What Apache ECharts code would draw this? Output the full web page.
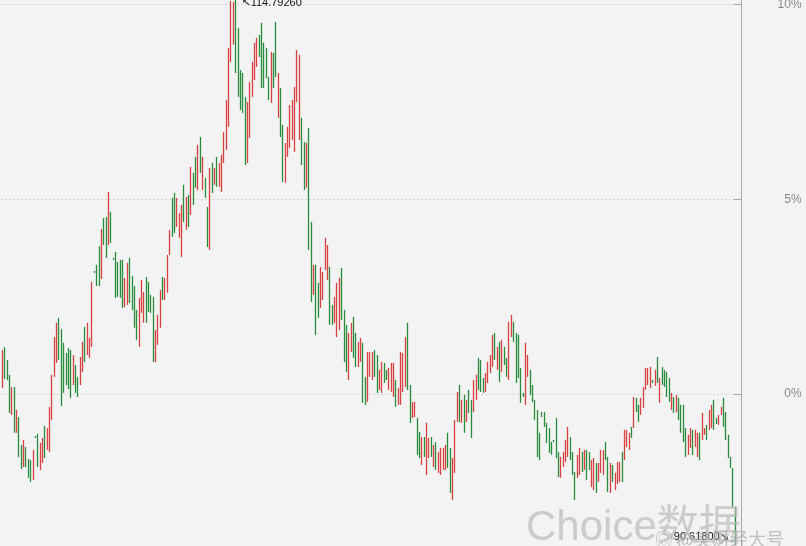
<!DOCTYPE html>
<html>
<head>
<meta charset="utf-8">
<script src="https://cdn.jsdelivr.net/npm/echarts@6/dist/echarts.min.js"></script>
<style>
html,body{margin:0;padding:0;background:#f3f3f3;}
#c{width:806px;height:546px;}
</style>
</head>
<body>
<div id="c"></div>
<script>
// ---- data (price units) ----
const highs = [
99.26,99.39,98.82,98.16,97.62,97.62,96.60,96.29,95.05,95.27,
94.96,94.43,94.38,94.83,95.45,95.54,95.14,95.36,95.89,95.80,
96.74,98.16,99.84,100.47,100.69,100.20,99.58,99.13,99.35,99.26,
99.04,98.60,98.07,98.95,99.62,100.29,100.47,99.80,102.28,102.77,
103.04,103.87,104.63,105.12,105.16,106.27,105.38,103.35,103.61,103.17,
103.26,103.26,102.46,103.13,103.35,102.54,102.10,101.04,101.57,102.37,
101.84,102.50,
102.28,101.71,101.62,100.15,100.82,101.93,102.50,102.46,103.48,104.59,
106.01,106.23,106.01,105.34,105.70,106.59,106.05,106.14,107.38,107.12,
107.83,108.36,108.71,107.83,106.90,105.61,107.34,107.56,107.34,107.83,
107.56,107.92,108.93,110.35,112.66,114.75,114.70,114.7926,113.55,111.68,
111.55,110.49,110.26,111.15,112.04,112.89,113.11,113.24,113.77,112.89,
112.66,111.37,112.48,112.44,113.81,111.55,110.89,109.25,108.45,109.16,
110.13,110.35,110.93,
112.57,112.35,109.56,108.49,108.45,109.11,104.94,103.04,103.04,102.24,
102.95,102.72,104.24,103.92,102.95,101.26,101.62,102.24,102.46,102.90,
101.04,100.38,100.02,100.47,100.73,100.02,99.62,99.80,99.58,98.07,
99.17,99.17,99.17,99.26,99.04,98.38,98.73,98.69,98.38,98.47,
98.69,98.69,97.93,97.58,99.17,99.13,99.84,100.47,97.71,96.96,
96.96,96.25,95.63,95.40,95.40,96.03,95.36,95.40,95.05,95.18,
94.74,94.92,
94.92,95.05,95.59,94.92,94.47,96.16,97.40,97.71,97.05,97.27,
97.05,97.49,97.05,97.93,98.16,98.91,98.82,98.02,98.24,98.73,
99.04,99.93,100.02,99.40,99.62,99.71,99.40,98.91,100.51,100.82,
100.51,100.02,99.93,98.47,97.36,99.58,99.04,98.38,97.71,97.05,
96.60,95.59,96.51,96.51,96.03,95.80,95.18,95.27,96.25,94.74,
94.52,94.74,95.27,95.85,95.40,94.74,93.85,94.61,94.92,94.74,
94.83,94.83,
94.74,94.38,94.47,94.25,94.25,94.83,94.83,95.18,94.52,94.25,
94.16,93.81,94.29,94.29,94.74,95.72,95.72,95.59,95.85,97.18,
97.14,96.83,97.14,97.62,98.47,98.47,98.51,97.93,98.38,98.95,
98.02,98.51,98.38,98.29,98.02,97.36,97.18,97.27,97.14,96.83,
96.83,95.80,95.50,95.80,95.72,95.72,95.59,95.59,96.47,95.80,
95.94,96.60,96.83,97.05,96.25,96.38,96.74,97.14,96.51,95.50,
94.52,94.03,92.30
];
const lows = [
97.58,97.97,97.93,96.47,96.38,95.59,95.59,94.52,93.98,94.07,
94.07,93.59,93.41,93.50,95.36,94.07,93.94,94.25,94.47,94.83,
94.74,96.16,98.07,98.69,98.82,96.78,97.36,97.71,97.53,97.14,
97.71,97.36,97.18,97.71,98.29,98.73,99.04,98.91,99.40,102.68,
102.10,102.10,102.41,103.92,103.35,103.92,104.01,103.26,101.57,101.62,
101.57,101.13,101.17,101.26,101.35,101.04,100.25,99.71,99.40,100.91,
100.47,100.47,
100.95,100.91,98.73,98.73,99.49,100.25,101.48,101.48,101.80,103.48,
104.28,104.46,104.72,104.24,103.39,104.94,104.59,104.72,105.25,105.70,
106.46,106.36,107.12,106.36,106.01,103.83,103.70,106.23,106.59,106.50,
106.50,106.27,107.56,108.14,109.16,112.04,112.80,111.55,110.49,109.91,
109.78,107.47,107.56,108.67,110.49,111.24,111.82,112.26,110.89,110.89,
111.33,110.35,110.22,110.89,111.37,109.56,108.71,106.72,106.68,107.83,
108.23,108.58,108.05,
110.26,108.58,107.47,106.36,106.46,103.70,101.39,101.71,99.93,100.69,
101.13,101.48,102.81,102.37,100.38,100.38,100.47,99.84,100.15,100.60,
98.73,98.29,97.93,99.17,98.91,98.51,98.51,98.73,96.92,96.83,
96.96,98.07,97.93,98.07,97.36,97.49,97.36,97.80,97.93,97.49,
97.40,97.18,96.74,96.83,96.83,97.40,97.62,97.49,96.03,96.25,
96.29,94.61,94.47,94.16,94.52,93.72,94.47,94.52,94.07,93.94,
93.81,93.72,
93.94,93.94,94.03,92.92,92.61,93.81,96.07,96.07,96.03,95.59,
96.07,96.47,95.36,96.51,97.05,97.49,97.40,97.36,97.40,97.80,
98.24,98.51,98.82,98.38,97.84,98.29,98.60,98.07,97.93,99.84,
99.62,97.80,98.02,96.92,97.18,96.83,98.07,97.27,96.96,96.16,
94.52,94.38,96.29,95.85,95.14,94.70,94.61,95.18,94.47,93.63,
93.59,94.07,94.29,94.52,94.38,93.72,92.61,93.59,93.72,93.85,
93.94,93.50,
93.94,93.18,93.05,92.92,93.41,93.81,93.72,94.38,92.96,92.92,
93.41,93.05,93.32,93.41,93.41,94.38,94.96,94.83,95.36,95.80,
96.51,96.07,96.38,96.69,97.49,97.71,97.58,97.80,97.67,97.80,
96.92,97.71,97.62,97.18,96.96,96.60,96.47,96.51,96.16,95.59,
95.18,94.52,94.61,94.92,94.61,94.96,94.52,94.38,95.27,95.50,
95.27,95.72,95.80,95.72,95.98,95.94,96.38,95.85,95.27,94.47,
94.03,92.30,90.618
];
// r = up (red), g = down (green)
const dirs = (
"rgggrgrggr"+"gggrggrrgr"+"rrrrgggggg"+"rggrrgrrrg"+"ggrggrgggg"+"ggrrggggrr"+"rg"+
"gggrrrgrrr"+"ggrrrgrgrg"+"grgrggrgrg"+"rrrrrrrggg"+"ggrrrrrggg"+"ggrggrggrr"+"rrr"+
"rrggrggrgg"+"rrrrggrrrg"+"ggrrggrrgg"+"rrrggrrggr"+"rrgrrrrggr"+"rggrgrrgrg"+"rr"+
"rrggrrrgrg"+"rggrrgggrr"+"rrgrgrggrr"+"gggggrrggg"+"gggggggggg"+"rrrrgggrrg"+"rg"+
"grrgrrrggr"+"grrrgrrrgr"+"ggrrrrrgrg"+"rggggrgrgg"+"ggrrgrrgrr"+"grrggrrggg"+"ggg"
).split('');
const pctTicks = {min: -5, max: 15, step: 5};   // right axis, percent
const basePrice = 97.31;       // price at 0%
const pricePerPct = 1.7278;    // price units per 1%

// ---- build ----
const cats = highs.map((_, i) => i + 1);
const kData = highs.map((h, i) => dirs[i] === 'r'
  ? [lows[i], h, lows[i], h]
  : [h, lows[i], lows[i], h]);

const RED = '#d94040', GREEN = '#278c3b';
const chart = echarts.init(document.getElementById('c'), null, {renderer: 'canvas'});
chart.setOption({
  backgroundColor: '#f3f3f3',
  animation: false,
  grid: {left: 1.5, right: 69.4, top: -190.25, bottom: -42.75, containLabel: false, outerBoundsMode: 'none'},
  xAxis: {type: 'category', data: cats, show: false, boundaryGap: true},
  yAxis: [
    {type: 'value', show: false,
     min: basePrice + pctTicks.min * pricePerPct,
     max: basePrice + pctTicks.max * pricePerPct},
    {type: 'value', position: 'right', offset: 5,
     min: pctTicks.min, max: pctTicks.max, interval: pctTicks.step,
     axisLine: {show: true, lineStyle: {color: '#a8a8a8', width: 1}},
     axisTick: {show: true, inside: true, length: 8, lineStyle: {color: '#a8a8a8'}},
     axisLabel: {formatter: '{value}%', color: '#8a8a8a', fontSize: 12,
                 fontFamily: '"Liberation Sans", Arial, sans-serif', align: 'right', margin: 60},
     splitLine: {show: true, lineStyle: {type: [1, 3], color: '#b4b4b4', width: 1}}}
  ],
  series: [{
    type: 'candlestick',
    yAxisIndex: 0,
    data: kData,
    barWidth: 1,
    itemStyle: {color: RED, color0: GREEN, borderColor: RED, borderColor0: GREEN, borderWidth: 1.3},
    markPoint: {
      symbol: 'circle', symbolSize: 1,
      itemStyle: {color: 'rgba(0,0,0,0)'},
      label: {show: true, color: '#111', fontSize: 11, fontFamily: '"Liberation Sans", "DejaVu Sans", sans-serif'},
      data: [
        {type: 'max', valueDim: 'highest',
         label: {formatter: p => '↖' + Number(p.value).toFixed(5), position: [6, 4], align: 'left', verticalAlign: 'middle'}},
        {type: 'min', valueDim: 'lowest',
         label: {formatter: p => Number(p.value).toFixed(5) + '↘', position: [-6, -7], align: 'right', verticalAlign: 'middle'}}
      ]
    }
  }],
  graphic: [
    {type: 'text', left: 526, top: 507, z: 100, silent: true,
     style: {text: 'Choice数据', font: '42px "Liberation Sans", "Noto Sans CJK SC", sans-serif', fill: 'rgba(185,185,185,0.7)'}},
    {type: 'text', left: 655, top: 530, z: 100, silent: true,
     style: {text: '◎ @美财经大号', font: '18px "Noto Sans CJK SC", sans-serif', fill: 'rgba(170,170,170,0.7)'}}
  ]
});
</script>
</body>
</html>
